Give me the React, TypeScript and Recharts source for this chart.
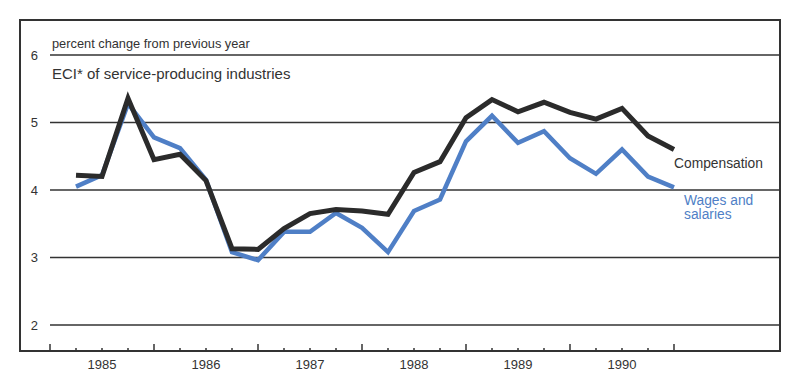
import { LineChart, Line, XAxis, YAxis, ReferenceLine, ReferenceArea } from 'recharts'

const quarters = [1, 2, 3, 4, 5, 6, 7, 8, 9, 10, 11, 12, 13, 14, 15, 16, 17, 18, 19, 20, 21, 22, 23, 24]
const compensation = [
  4.22, 4.2, 5.36, 4.45, 4.53, 4.14, 3.13, 3.12, 3.43, 3.65, 3.71, 3.69,
  3.64, 4.26, 4.42, 5.07, 5.34, 5.16, 5.3, 5.15, 5.05, 5.21, 4.8, 4.6,
]
const wages = [
  4.05, 4.22, 5.28, 4.78, 4.62, 4.15, 3.08, 2.96, 3.38, 3.38, 3.66, 3.44,
  3.08, 3.69, 3.86, 4.72, 5.1, 4.7, 4.87, 4.47, 4.24, 4.6, 4.2, 4.04,
]
const years = ['1985', '1986', '1987', '1988', '1989', '1990']
const yTicks = [2, 3, 4, 5, 6]
const xTicks = [0, 1, 2, 3, 4, 5, 6, 7, 8, 9, 10, 11, 12, 13, 14, 15, 16, 17, 18, 19, 20, 21, 22, 23, 24]

const X_MIN = -1.154
const X_MAX = 28.077
const Y_MIN = 1.615
const Y_MAX = 6.519

const data = quarters.map((q, i) => ({ q, comp: compensation[i], wages: wages[i] }))

const INK = '#333333'
const BLUE = '#4f7fc6'
const FONT = '"Liberation Sans", Arial, sans-serif'

function QuarterTick({ x, y, payload }: any) {
  const k = payload.value as number
  const major = k % 4 === 0
  return (
    <g>
      <line x1={x} x2={x} y1={y} y2={y - (major ? 7 : 3)} stroke={INK} strokeWidth={1.5} />
      {k % 4 === 2 && (
        <text x={x} y={y + 18} textAnchor="middle" fill={INK} fontSize={13} fontFamily={FONT}>
          {years[(k - 2) / 4]}
        </text>
      )}
    </g>
  )
}

export default function App() {
  return (
    <div style={{ position: 'absolute', left: 0, top: 0, width: 800, height: 387, background: '#fff', fontFamily: FONT }}>
      <LineChart width={800} height={387} data={data} margin={{ top: 20, right: 20, bottom: 6, left: 20 }}>
        <XAxis
          dataKey="q"
          type="number"
          domain={[X_MIN, X_MAX]}
          ticks={xTicks}
          interval={0}
          height={30}
          tickSize={0}
          tickMargin={0}
          axisLine={false}
          tickLine={false}
          tick={<QuarterTick />}
          allowDataOverflow
        />
        <YAxis hide type="number" domain={[Y_MIN, Y_MAX]} allowDataOverflow />
        <ReferenceArea
          x1={X_MIN}
          x2={X_MAX}
          y1={Y_MIN}
          y2={Y_MAX}
          fill="none"
          stroke={INK}
          strokeWidth={2}
          ifOverflow="visible"
        />
        {yTicks.map((v) => (
          <ReferenceLine
            key={v}
            segment={[{ x: 0, y: v }, { x: X_MAX, y: v }]}
            stroke={INK}
            strokeWidth={1.5}
            label={{ value: String(v), position: 'left', offset: 12, fill: INK, fontSize: 13, fontFamily: FONT }}
          />
        ))}
        <Line
          dataKey="wages"
          stroke={BLUE}
          strokeWidth={4.5}
          dot={false}
          activeDot={false}
          isAnimationActive={false}
        />
        <Line
          dataKey="comp"
          stroke="#2b2b2b"
          strokeWidth={5}
          dot={false}
          activeDot={false}
          isAnimationActive={false}
        />
      </LineChart>
      <div style={{ position: 'absolute', left: 52, top: 36, fontSize: 12.8, color: INK, whiteSpace: 'nowrap' }}>
        percent change from previous year
      </div>
      <div style={{ position: 'absolute', left: 52, top: 65, fontSize: 15, color: INK, whiteSpace: 'nowrap' }}>
        ECI* of service-producing industries
      </div>
      <div style={{ position: 'absolute', left: 674, top: 156, fontSize: 13.8, color: INK, whiteSpace: 'nowrap' }}>
        Compensation
      </div>
      <div style={{ position: 'absolute', left: 684, top: 194, fontSize: 13.8, lineHeight: '14px', color: BLUE }}>
        Wages and
        <br />
        salaries
      </div>
    </div>
  )
}
